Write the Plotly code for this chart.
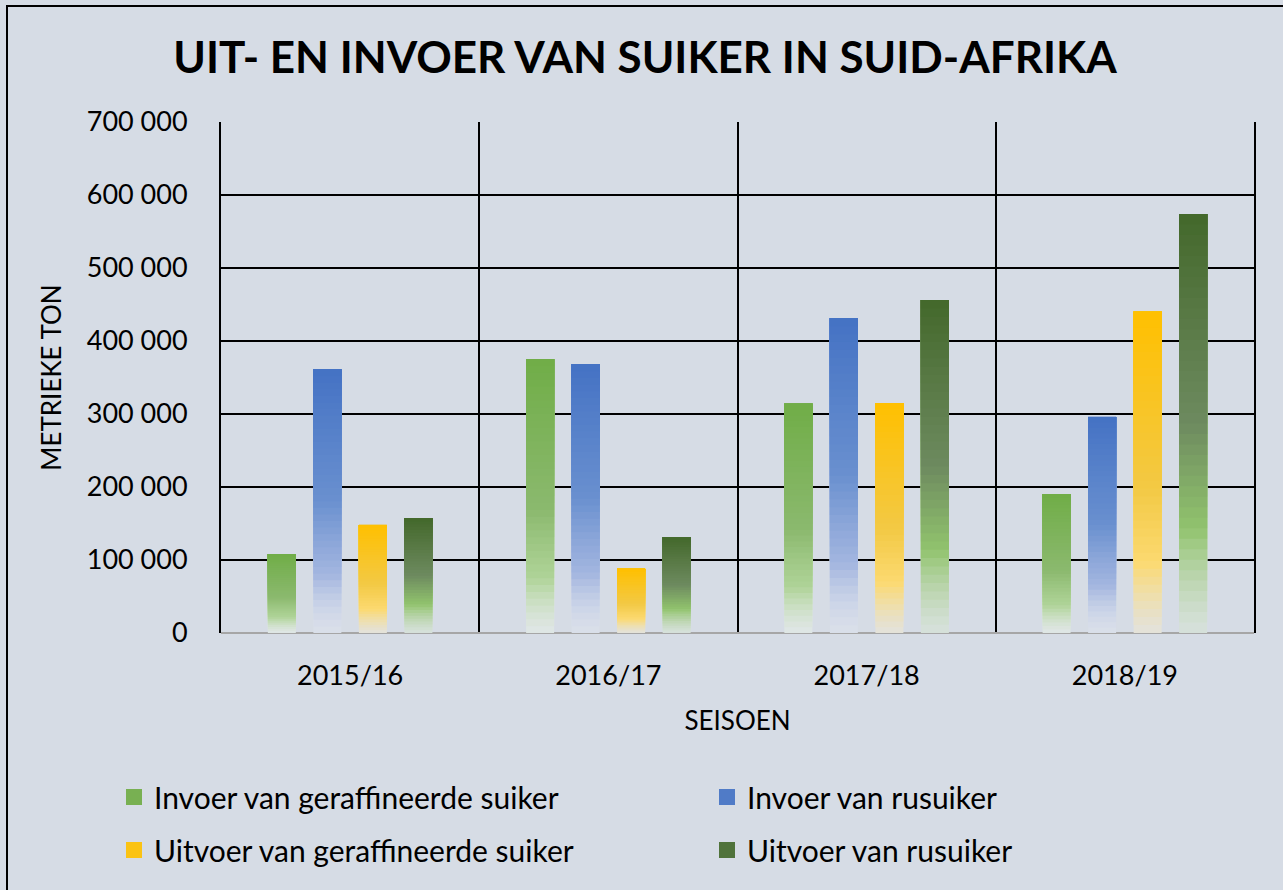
import plotly.graph_objects as go

# ---------------- data ----------------
seasons = ["2015/16", "2016/17", "2017/18", "2018/19"]
invoer_geraffineerd = [108000, 375000, 314000, 190000]
invoer_rusuiker = [361000, 368000, 431000, 296000]
uitvoer_geraffineerd = [148000, 88000, 315000, 440000]
uitvoer_rusuiker = [157000, 131000, 456000, 574000]
series_names = [
    "Invoer van geraffineerde suiker",
    "Invoer van rusuiker",
    "Uitvoer van geraffineerde suiker",
    "Uitvoer van rusuiker",
]
y_tick_vals = [0, 100000, 200000, 300000, 400000, 500000, 600000, 700000]

# ---------------- styling ----------------
BG = "#D6DCE5"
BG_RGB = (214, 220, 229)
FONT = "Lato"
# gradient stops: (fraction from top of bar, (r,g,b), alpha) -> blended over background
gradients = [
    [(0.0, (112, 173, 71), 1.0), (0.55, (135, 183, 104), 0.95), (0.8, (168, 210, 138), 0.85), (1.0, (236, 242, 232), 0.45)],
    [(0.0, (68, 114, 196), 1.0), (0.5, (100, 140, 206), 0.95), (0.78, (150, 172, 222), 0.8), (1.0, (226, 231, 242), 0.3)],
    [(0.0, (255, 192, 0), 1.0), (0.55, (244, 200, 60), 0.95), (0.78, (255, 217, 102), 0.92), (1.0, (235, 230, 215), 0.6)],
    [(0.0, (67, 104, 43), 1.0), (0.5, (104, 134, 88), 0.95), (0.75, (139, 193, 99), 0.92), (1.0, (216, 230, 212), 0.5)],
]


def grad_color(stops, t):
    c, a = stops[-1][1], stops[-1][2]
    for (t0, c0, a0), (t1, c1, a1) in zip(stops[:-1], stops[1:]):
        if t0 <= t <= t1:
            f = (t - t0) / (t1 - t0) if t1 > t0 else 0
            c = [c0[i] + (c1[i] - c0[i]) * f for i in range(3)]
            a = a0 + (a1 - a0) * f
            break
    r, g, b = [round(c[i] * a + BG_RGB[i] * (1 - a)) for i in range(3)]
    return f"rgb({r},{g},{b})"


all_values = [invoer_geraffineerd, invoer_rusuiker, uitvoer_geraffineerd, uitvoer_rusuiker]
legend_ids = ["legend", "legend2", "legend3", "legend4"]
N = 40

fig = go.Figure()
for s, (vals, name, stops) in enumerate(zip(all_values, series_names, gradients)):
    # each slice runs from its own base up to the bar top; later slices cover
    # earlier ones, so only the band of each slice remains visible (no seams)
    for k in range(N):
        t = 1 - (k + 0.5) / N
        fig.add_trace(go.Bar(
            x=seasons,
            y=[v * (N - k) / N for v in vals],
            base=[v * k / N for v in vals],
            offsetgroup=str(s),
            name=name,
            showlegend=False,
            marker=dict(color=grad_color(stops, t), line=dict(width=0)),
            hoverinfo="skip",
        ))
    # legend entry (square swatch in the series colour)
    fig.add_trace(go.Scatter(
        x=[None],
        y=[None],
        mode="markers",
        name=name,
        legend=legend_ids[s],
        marker=dict(symbol="square", size=16, color=grad_color(stops, 0.15)),
        hoverinfo="skip",
    ))

L, R, T, B = 221, 29, 122, 257
W, H = 1283, 890
pw, ph = W - L - R, H - T - B


def px_x(x):
    return (x - L) / pw


def px_y(y):
    return (H - B - y) / ph


legend_common = dict(
    font=dict(family=FONT, size=30, color="#000000"),
    bgcolor="rgba(0,0,0,0)",
    xanchor="left",
    yanchor="middle",
    itemsizing="trace",
    itemclick=False,
    itemdoubleclick=False,
)

fig.update_layout(
    width=W,
    height=H,
    paper_bgcolor=BG,
    plot_bgcolor=BG,
    margin=dict(l=L, r=R, t=T, b=B),
    separators=". ",
    barmode="group",
    bargap=0.295,
    bargroupgap=0.385,
    title=dict(
        text="<b>UIT- EN INVOER VAN SUIKER IN SUID-AFRIKA</b>",
        font=dict(family=FONT, size=44, color="#000000"),
        x=645 / W,
        xref="container",
        xanchor="center",
        y=1 - 58 / H,
        yref="container",
        yanchor="middle",
    ),
    legend=dict(x=px_x(114), y=px_y(797), **legend_common),
    legend2=dict(x=px_x(707), y=px_y(797), **legend_common),
    legend3=dict(x=px_x(114), y=px_y(850), **legend_common),
    legend4=dict(x=px_x(707), y=px_y(850), **legend_common),
    xaxis=dict(
        type="category",
        showgrid=True,
        gridcolor="#000000",
        gridwidth=2,
        tickson="boundaries",
        ticks="",
        ticklabelstandoff=24,
        tickfont=dict(family=FONT, size=27, color="#000000"),
        title=dict(text="SEISOEN", font=dict(family=FONT, size=26, color="#000000"), standoff=21),
        showline=False,
        fixedrange=True,
    ),
    yaxis=dict(
        range=[0, 700000],
        tickvals=y_tick_vals,
        tickformat=",d",
        showgrid=True,
        gridcolor="#000000",
        gridwidth=2,
        ticks="",
        ticklabelstandoff=26,
        tickfont=dict(family=FONT, size=27, color="#000000"),
        title=dict(text="METRIEKE TON", font=dict(family=FONT, size=26, color="#000000"), standoff=18),
        showline=True,
        linecolor="#000000",
        linewidth=2,
        mirror=True,
        zeroline=True,
        zerolinecolor="#A6A6A6",
        zerolinewidth=2,
        fixedrange=True,
    ),
    shapes=[
        dict(
            type="rect",
            xref="paper",
            yref="paper",
            x0=px_x(7),
            x1=px_x(1300),
            y0=px_y(900),
            y1=px_y(6),
            line=dict(color="#000000", width=2),
            fillcolor="rgba(0,0,0,0)",
            layer="below",
        )
    ],
)

fig.write_html(
    "out.html",
    config={"displayModeBar": False},
    post_script="document.body.style.margin='0';document.body.style.overflow='hidden';",
)
